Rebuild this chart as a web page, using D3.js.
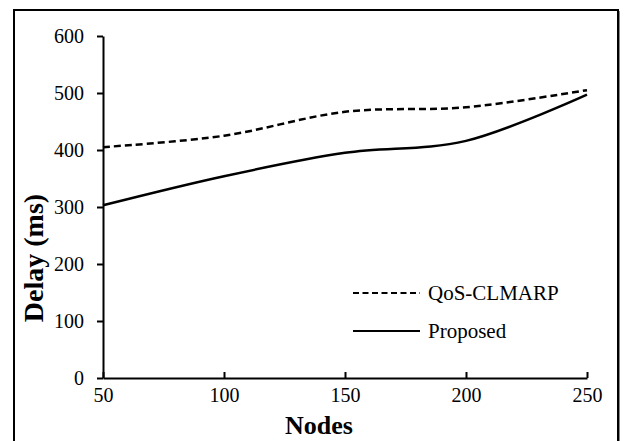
<!DOCTYPE html>
<html><head><meta charset="utf-8">
<script src="https://cdn.jsdelivr.net/npm/d3@7/dist/d3.min.js"></script>
<style>body{margin:0;background:#fff}svg{display:block}svg text{font-family:"Liberation Serif","Times New Roman",serif !important;fill:#000}</style>
</head><body>
<script>
const nodes = [50, 100, 150, 200, 250];
const qosClmarp = [405, 425, 467, 475, 505];
const proposed = [303, 354, 395, 416, 497];
const yTicks = [0, 100, 200, 300, 400, 500, 600];
const xTicks = [50, 100, 150, 200, 250];
const seriesNames = ["QoS-CLMARP", "Proposed"];

const W = 625, H = 441;
const svg = d3.select("body").append("svg").attr("width", W).attr("height", H);

// outer border
svg.append("path").attr("d", `M14,${H+2} V10 H618 V${H+2}`).attr("fill","none").attr("stroke","#000").attr("stroke-width",2);
svg.append("line").attr("x1",619.5).attr("x2",619.5).attr("y1",11).attr("y2",H).attr("stroke","#888").attr("stroke-width",1);

const x = d3.scaleLinear().domain([50, 250]).range([103, 587]);
const y = d3.scaleLinear().domain([0, 600]).range([378, 36]);

const yAxis = d3.axisLeft(y).tickValues(yTicks).tickSize(6).tickSizeOuter(0);
const gy = svg.append("g").attr("transform", `translate(${x(50)},0)`).call(yAxis).attr("font-size",null).attr("font-family",null);
gy.select(".domain").attr("stroke","#000").attr("stroke-width",2);
gy.selectAll(".tick line").attr("stroke","#000").attr("stroke-width",2);
gy.selectAll(".tick text").style("font-size","20px").attr("x",-19).attr("dy","0.33em");

const xAxis = d3.axisBottom(x).tickValues(xTicks).tickSize(-6).tickSizeOuter(0);
const gx = svg.append("g").attr("transform", `translate(0,${y(0)})`).call(xAxis).attr("font-size",null).attr("font-family",null);
gx.select(".domain").attr("stroke","#000").attr("stroke-width",2);
gx.selectAll(".tick line").attr("stroke","#000").attr("stroke-width",2);
gx.selectAll(".tick text").style("font-size","20px").attr("y",24).attr("dy",0);

const line = d3.line().x((d,i)=>x(nodes[i])).y(d=>y(d)).curve(d3.curveCatmullRom.alpha(0));
svg.append("path").datum(qosClmarp).attr("d", line).attr("fill","none").attr("stroke","#000").attr("stroke-width",2.5).attr("stroke-dasharray","7,4");
svg.append("path").datum(proposed).attr("d", line).attr("fill","none").attr("stroke","#000").attr("stroke-width",2.5);

// legend
const lg = svg.append("g");
[0,1].forEach(i=>{
  const ly = 293 + i*38;
  lg.append("line").attr("x1",353).attr("x2",420).attr("y1",ly).attr("y2",ly).attr("stroke","#000").attr("stroke-width",2.2).attr("stroke-dasharray", i===0 ? "6,3.5" : null);
  lg.append("text").attr("x",428).attr("y",ly).attr("dy","0.35em").style("font-size","21px").text(seriesNames[i]);
});

svg.append("text").attr("x",319).attr("y",434).attr("text-anchor","middle").style("font-size","26px").style("font-weight","bold").text("Nodes");
svg.append("text").attr("transform","translate(43,258) rotate(-90)").attr("text-anchor","middle").style("font-size","28px").style("font-weight","bold").text("Delay (ms)");
</script>
</body></html>
